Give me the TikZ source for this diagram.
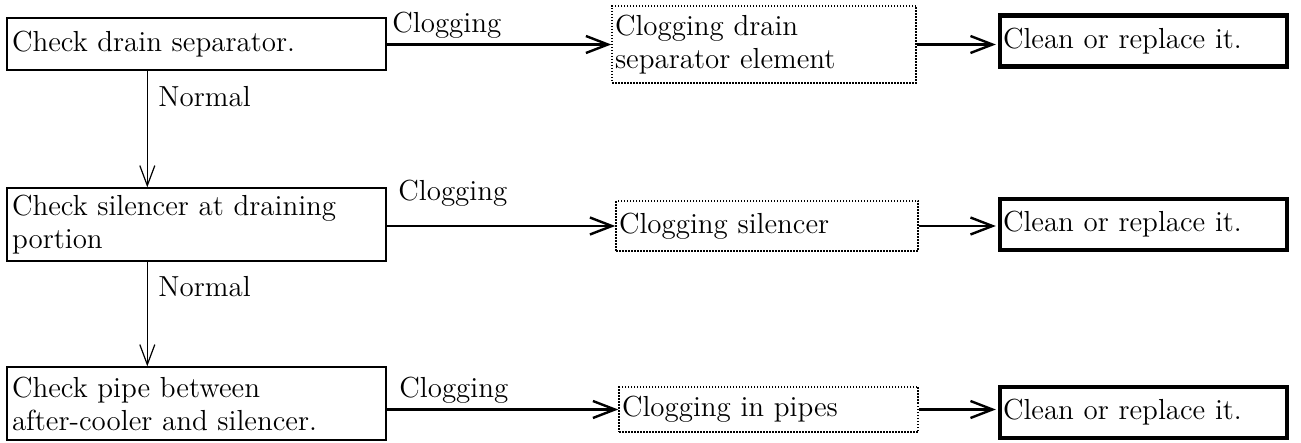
\documentclass[tikz,border=0pt]{standalone}
\usetikzlibrary{arrows.meta, positioning}
\tikzset{
  chkbox/.style={draw, line width=0.7pt, minimum width=189.5pt, text width=184.5pt,
                 align=left, inner xsep=2.5pt, inner ysep=0pt},
  causebox/.style={draw, line width=0.75pt, dash pattern=on 0.75pt off 0.75pt,
                   align=left, inner xsep=1.5pt, inner ysep=0pt},
  fixbox/.style={draw, line width=2.2pt, minimum width=143.5pt, text width=140.5pt,
                 minimum height=25.5pt, align=left, inner xsep=1.5pt, inner ysep=0pt},
  arr/.style={-{Straight Barb[length=11pt, width=8.5pt]}, line width=1.2pt},
  darr/.style={-{Straight Barb[length=10pt, width=7.5pt]}, line width=0.6pt},
  lbl/.style={anchor=base west, inner sep=0pt},
}

\begin{document}
\begin{tikzpicture}[x=0.5pt, y=-0.5pt,
    every node/.style={font=\fontsize{14.5}{16.5}\selectfont}]
    \useasboundingbox (0,0) rectangle (1301,443);

    % checks
    \node[chkbox, minimum height=26pt] (c1) at (196.5, 44) {Check drain separator.};
    \node[chkbox, minimum height=36.5pt] (c2) at (196.5, 224.5) {Check silencer at draining\\portion};
    \node[chkbox, minimum height=36.5pt] (c3) at (196.5, 403.5) {Check pipe between\\after-cooler and silencer.};

    % causes
    \node[causebox, minimum width=152pt, text width=149pt, minimum height=38.5pt] (d1) at (764, 44.5) {Clogging drain\\separator element};
    \node[causebox, minimum width=151pt, text width=148pt, minimum height=25pt] (d2) at (767, 226) {Clogging silencer};
    \node[causebox, minimum width=149.5pt, text width=146.5pt, minimum height=22.5pt] (d3) at (768.5, 409.5) {Clogging in pipes};

    % remedies
    \node[fixbox] (f1) at (1143.5, 41) {Clean or replace it.};
    \node[fixbox] (f2) at (1143.5, 224.5) {Clean or replace it.};
    \node[fixbox] (f3) at (1143.5, 412.5) {Clean or replace it.};

    \node[lbl] (l1) at (392, 33) {Clogging};
    \node[lbl] (l2) at (398, 201) {Clogging};
    \node[lbl] (l3) at (399, 397) {Clogging};
    \node[lbl] (n1) at (158, 107) {Normal};
    \node[lbl] (n2) at (158, 297) {Normal};

    \draw[arr] (c1.east |- d1.west) -- (d1.west);
    \draw[arr] (c2.east |- d2.west) -- (d2.west);
    \draw[arr] (c3.east |- d3.west) -- (d3.west);
    \draw[arr, shorten >=1pt] (d1.east) -- (d1.east -| f1.west);
    \draw[arr, shorten >=1pt] (d2.east) -- (d2.east -| f2.west);
    \draw[arr, shorten >=1pt] (d3.east) -- (d3.east -| f3.west);

    \draw[darr] ([xshift=70.5pt]c1.south west) -- ([xshift=70.5pt]c2.north west);
    \draw[darr] ([xshift=70.5pt]c2.south west) -- ([xshift=70.5pt]c3.north west);
  \end{tikzpicture}
\end{document}
